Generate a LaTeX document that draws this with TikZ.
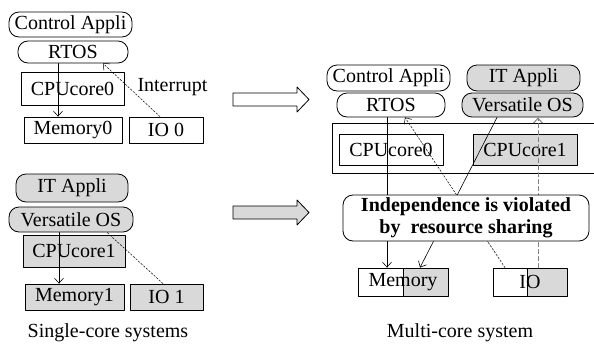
\documentclass[tikz,border=0pt]{standalone}
\usepackage{fontspec}
\setmainfont{Liberation Serif}
\usetikzlibrary{arrows.meta}
\tikzset{
  blk/.style={draw, line width=.8pt, inner sep=0pt},
  dsh/.style={line width=.5pt, dash pattern=on 2pt off 1.5pt},
  halfgray/.style={path picture={\filldraw[gray!30, draw=black, line width=.8pt]
      ([xshift=#1]path picture bounding box.north) rectangle (path picture bounding box.south east);}}
}
\begin{document}
\begin{tikzpicture}[x=1pt, y=-1pt, font=\fontsize{20}{22}\selectfont, line
			join=round, line
			cap=round, >={Straight Barb[length=5pt,width=9pt]}]
			\useasboundingbox (0,0) rectangle (594,351);
			% name/x/y/width/height/corner/fill/text
			\foreach \n/\x/\y/\w/\h/\r/\f/\t in {
				ctrlA/70.5/24.5/123/25/10/white/Control Appli,
				rtosA/73/52/110/22/10/white/RTOS,
				cpuA/72.5/88.5/103/33/0/white/CPUcore0,
				memA/73/130/98/26/0/white/Memory0,
				ioA/166/130/74/26/0/white/IO 0,
				itB/72/188/112/28/10/gray!30/IT Appli,
				vosB/71/219.5/124/25/10/gray!30/Versatile OS,
				cpuB/74/251/102/32/0/gray!30/CPUcore1,
				memB/74.5/297/99/26/0/gray!30/Memory1,
				ioB/166.5/297/73/26/0/gray!30/IO 1,
				ctrlC/388.5/78/123/26/10/white/Control Appli,
				itC/523.5/78/113/26/10/gray!30/IT Appli,
				rtosC/391/105/108/24/10/white/RTOS,
				vosC/522.5/105/121/24/10/gray!30/Versatile OS,
				cpu0C/391/149.5/104/31/0/white/CPUcore0,
				cpu1C/525/149.5/104/31/0/gray!30/CPUcore1}
			\node[blk, minimum width=\w pt, minimum height=\h pt, rounded corners=\r pt, fill=\f] (\n) at (\x,\y) {\t};
			\node[blk, minimum width=90pt, minimum height=28pt, halfgray=0pt] (mem) at (403,282) {Memory};
			\node[blk, minimum width=74pt, minimum height=28pt, halfgray=-3pt] (io) at (530,282) {IO};
			\node (intr) at (172.5,87) {Interrupt};
			\node (single) at (108,333) {Single-core systems};
			\node (multi) at (460,333) {Multi-core system};
			% shared cores frame
			\draw[line width=.8pt] (600,123) -| (332,173) -- (600,173);
			% block arrows
			\foreach \y/\f in {99.5/white, 212.5/gray!30}
			\draw[line width=.8pt, fill=\f] (233,\y-6.5) -- (297,\y-6.5) -- (297,\y-12.5)
			-- (309,\y) -- (297,\y+12.5) -- (297,\y+6.5) -- (233,\y+6.5) -- cycle;
			% single-core systems
			\draw[->, line width=.6pt] ([xshift=-15pt]rtosA.south) -- ([xshift=-15pt]rtosA.south |- memA.north);
			\draw[->, dsh] ([xshift=-6pt]ioA.north) -- ([xshift=30pt]rtosA.south);
			\draw[->, line width=.6pt] ([xshift=-12pt]vosB.south) -- ([xshift=-12pt]vosB.south |- memB.north);
			\draw[dsh] ([xshift=-3.5pt]ioB.north) -- ([xshift=36pt]vosB.south);
			% multi-core system
			\draw[->, line width=.6pt] ([xshift=-4pt]rtosC.south) -- ([xshift=-4pt]rtosC.south |- mem.north);
			\draw[->, line width=.6pt] ([xshift=-25.5pt]vosC.south) -- ([xshift=17pt]mem.north);
			\draw[->, dsh] ([xshift=-25pt]io.north) -- ([xshift=14pt]rtosC.south);
			\draw[->, gray, line width=1pt, dash pattern=on 4pt off 3pt] ([xshift=8pt]io.north) -- ([xshift=8pt]io.north |- vosC.south);
			\node[blk, fill=white, rounded corners=10pt, minimum width=246pt, minimum height=46pt,
			align=center, font=\fontsize{20}{22}\selectfont\bfseries] (indep) at (466,218)
			{Independence is violated\\by\ \ resource sharing};
		\end{tikzpicture}
\end{document}
